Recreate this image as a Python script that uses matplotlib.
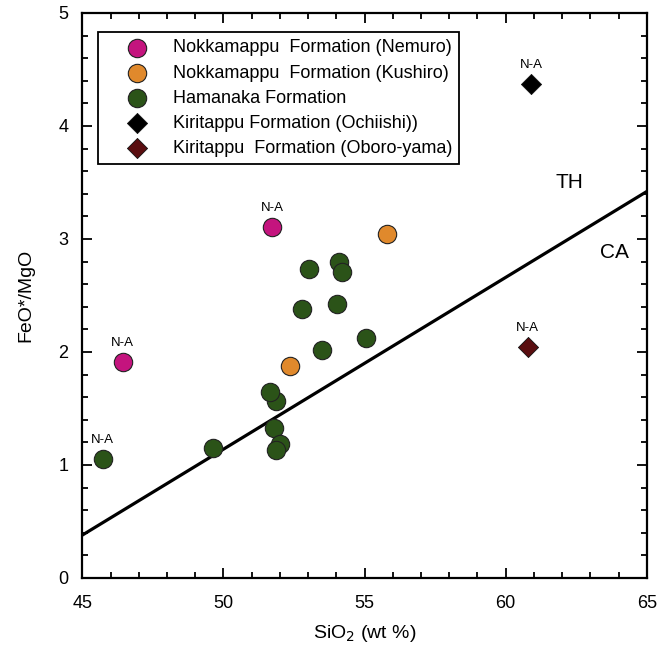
import matplotlib
matplotlib.use("Agg")
import matplotlib.pyplot as plt
from matplotlib.ticker import MultipleLocator

plt.rcParams['font.family'] = ['Liberation Sans', 'DejaVu Sans']

# --- data ---
nemuro_x = [46.43, 51.72]
nemuro_y = [1.91, 3.11]
kushiro_x = [52.36, 55.80]
kushiro_y = [1.875, 3.04]
hamanaka_x = [45.72, 49.62, 51.85, 51.64, 51.80, 52.02, 51.86, 52.77, 53.02, 53.48, 54.02, 54.09, 54.21, 55.04]
hamanaka_y = [1.057, 1.146, 1.564, 1.646, 1.328, 1.190, 1.137, 2.383, 2.736, 2.017, 2.428, 2.798, 2.706, 2.125]
ochiishi_x = [60.90]
ochiishi_y = [4.37]
oboro_x = [60.78]
oboro_y = [2.043]

# TH / CA dividing line
line_x = [45, 65]
line_y = [0.38, 3.42]

# points flagged "N-A"
na_x = [nemuro_x[0], nemuro_x[1], hamanaka_x[0], ochiishi_x[0], oboro_x[0]]
na_y = [nemuro_y[0], nemuro_y[1], hamanaka_y[0], ochiishi_y[0], oboro_y[0]]

labels = [
    "Nokkamappu  Formation (Nemuro)",
    "Nokkamappu  Formation (Kushiro)",
    "Hamanaka Formation",
    "Kiritappu Formation (Ochiishi))",
    "Kiritappu  Formation (Oboro-yama)",
]

fig = plt.figure(figsize=(6.72, 6.49), dpi=100)
ax = fig.add_axes([0.1226, 0.1094, 0.8398, 0.8706])

ax.plot(line_x, line_y, color='black', lw=2.3, zorder=2)

circ = dict(s=175, edgecolors='#222222', linewidths=0.8, zorder=3)
diam = dict(marker='D', s=105, edgecolors='#111111', linewidths=0.6, zorder=3)
ax.scatter(nemuro_x, nemuro_y, color='#C4147E', label=labels[0], **circ)
ax.scatter(kushiro_x, kushiro_y, color='#E0892C', label=labels[1], **circ)
ax.scatter(hamanaka_x, hamanaka_y, color='#2B5318', label=labels[2], **circ)
ax.scatter(ochiishi_x, ochiishi_y, color='black', label=labels[3], **diam)
ax.scatter(oboro_x, oboro_y, color='#5A0E10', label=labels[4], **diam)

for x, y in zip(na_x, na_y):
    ax.annotate("N-A", (x, y), xytext=(0, 13.5), textcoords='offset points',
                ha='center', va='center', fontsize=9.5)

ax.text(62.25, 3.50, "TH", fontsize=15, ha='center', va='center')
ax.text(63.85, 2.88, "CA", fontsize=15, ha='center', va='center')

ax.set_xlim(45, 65)
ax.set_ylim(0, 5)
ax.xaxis.set_major_locator(MultipleLocator(5))
ax.xaxis.set_minor_locator(MultipleLocator(1))
ax.yaxis.set_major_locator(MultipleLocator(1))
ax.yaxis.set_minor_locator(MultipleLocator(0.2))
ax.tick_params(which='both', direction='in', top=True, right=True, width=1.3, labelsize=13)
ax.tick_params(which='major', length=7)
ax.tick_params(which='minor', length=4)
ax.tick_params(axis='x', which='major', pad=12)
ax.tick_params(axis='y', which='major', pad=10)
for sp in ax.spines.values():
    sp.set_linewidth(1.6)

ax.set_xlabel("SiO$_2$ (wt %)", fontsize=14, labelpad=8)
ax.set_ylabel("FeO*/MgO", fontsize=14, labelpad=17)

leg = ax.legend(loc='upper left', bbox_to_anchor=(0.027, 0.966), borderaxespad=0,
                fancybox=False, edgecolor='black', framealpha=1, fontsize=13,
                handlelength=3.6, handletextpad=0.15, labelspacing=0.45,
                borderpad=0.4, scatterpoints=1)
leg.get_frame().set_linewidth(1.3)

fig.savefig("out.png", dpi=100)
